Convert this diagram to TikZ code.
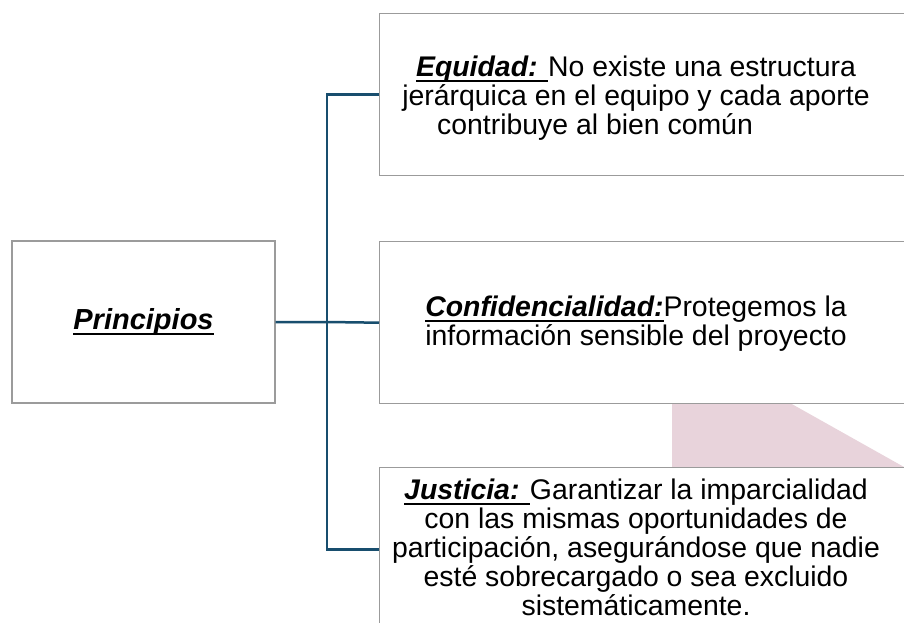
\documentclass[tikz,border=0pt]{standalone}
\usepackage{fontspec}
\setmainfont{Liberation Sans}
\definecolor{linkblue}{RGB}{24,78,110}
\definecolor{boxgrey}{RGB}{155,155,155}
\definecolor{softpink}{RGB}{232,211,219}
\newsavebox\ulbox
\newcommand\myul[1]{\sbox\ulbox{#1}\rlap{\rule[-5.6pt]{\wd\ulbox}{2.2pt}}\usebox\ulbox}
\tikzset{
  framebox/.style={draw=boxgrey, line width=1.4pt, fill=white, rectangle, inner sep=0pt},
  boxtext/.style={align=center, inner sep=0pt, font=\fontsize{28.4}{29}\selectfont},
  link/.style={draw=linkblue, line width=2.5pt}
}
\begin{document}
\begin{tikzpicture}[x=1pt,y=-1pt]
\clip (0,0) rectangle (904,623);
\fill[white] (0,0) rectangle (904,623);
% background shape
\fill[softpink] (672,403) -- (790,403) -- (904,467) -- (904,480) -- (672,480) -- cycle;
% boxes
\node[framebox, minimum width=263pt, minimum height=162pt] (P) at (143.5,322) {};
\node[framebox, minimum width=560pt, minimum height=162pt, anchor=north west] (B1) at (379,13) {};
\node[framebox, minimum width=560pt, minimum height=162pt, anchor=north west] (B2) at (379,241) {};
\node[framebox, minimum width=560pt, minimum height=164pt, anchor=north west] (B3) at (379,467) {};
% texts
\node[boxtext, font=\fontsize{29}{30}\selectfont] (PT) at (P.center) {\myul{\textbf{\textit{Principios}}}};
\node[boxtext] (T1) at (636,98.5) {\myul{\textbf{\textit{Equidad: }}}No existe una estructura\\ jerárquica en el equipo y cada aporte\\ contribuye al bien común\hspace{82pt}\mbox{}};
\node[boxtext] (T2) at (636,324) {\myul{\textbf{\textit{Confidencialidad:}}}Protegemos la\\ información sensible del proyecto};
\node[boxtext] (T3) at (636,547.5) {\myul{\textbf{\textit{Justicia: }}}Garantizar la imparcialidad\\ con las mismas oportunidades de\\ participación, asegurándose que nadie\\ esté sobrecargado o sea excluido\\ sistemáticamente.};
% connectors
\coordinate (J) at (327,322);
\draw[link] (P.east) -- (J) -- (B2.west);
\draw[link] (B1.west) -| (J) |- (B3.west);
\end{tikzpicture}
\end{document}
